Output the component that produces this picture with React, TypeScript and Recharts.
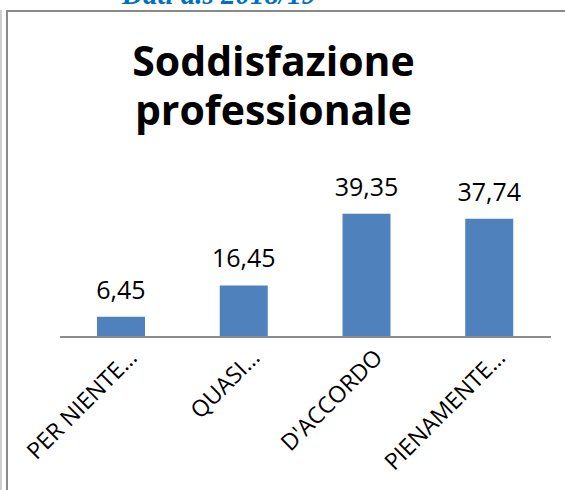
import { BarChart, Bar, XAxis, YAxis, LabelList } from "recharts";

const categories = ["PER NIENTE…", "QUASI…", "D'ACCORDO", "PIENAMENTE…"];
const values = [6.45, 16.45, 39.35, 37.74];

const data = categories.map((name, i) => ({ name, value: values[i] }));

const BAR_COLOR = "#4F81BD";
const FONT = "'Open Sans', 'Liberation Sans', sans-serif";

// rotated category label, text ends up-right near the tick
const CategoryTick = (props: any) => {
  const { x, y, payload } = props;
  const ax = x + 17;
  const ay = y + 22;
  return (
    <text
      x={ax}
      y={ay}
      textAnchor="end"
      transform={`rotate(-45, ${ax}, ${ay})`}
      fill="#000"
      fontSize={23}
      fontFamily={FONT}
    >
      {payload.value}
    </text>
  );
};

const formatValue = (v: any) => Number(v).toFixed(2).replace(".", ",");

export default function App() {
  return (
    <div
      style={{
        position: "absolute",
        left: 0,
        top: 0,
        width: 565,
        height: 490,
        overflow: "hidden",
        background: "#fff",
      }}
    >
      {/* cut-off heading above the chart box */}
      <div
        style={{
          position: "absolute",
          left: 122,
          top: -20,
          fontFamily: "'Liberation Serif', serif",
          fontWeight: "bold",
          fontStyle: "italic",
          fontSize: 29,
          lineHeight: "29px",
          color: "#0070C0",
          whiteSpace: "nowrap",
        }}
      >
        Dati a.s 2018/19
      </div>

      {/* chart frame */}
      <div
        style={{
          position: "absolute",
          left: 0,
          top: 10,
          width: 2,
          height: 480,
          background: "#cfcfcf",
        }}
      />
      <div
        style={{
          position: "absolute",
          left: 6,
          top: 10,
          width: 600,
          height: 500,
          borderLeft: "2px solid #8a8a8a",
          borderTop: "2px solid #8a8a8a",
        }}
      />

      <div
        style={{
          position: "absolute",
          left: 0,
          top: 36,
          width: 547,
          textAlign: "center",
          fontFamily: FONT,
          fontWeight: "bold",
          fontSize: 41,
          lineHeight: "49px",
          color: "#000",
        }}
      >
        Soddisfazione
        <br />
        professionale
      </div>

      <div style={{ position: "absolute", left: 0, top: 0 }}>
        <BarChart
          width={565}
          height={490}
          data={data}
          margin={{ top: 196, right: 14, bottom: 0, left: 60 }}
        >
          <YAxis hide domain={[0, 45]} />
          <XAxis
            dataKey="name"
            axisLine={{ stroke: "#8c8c8c", strokeWidth: 2 }}
            tickLine={false}
            tickSize={0}
            tickMargin={0}
            interval={0}
            height={153}
            tick={<CategoryTick />}
          />
          <Bar
            dataKey="value"
            fill={BAR_COLOR}
            barSize={48}
            isAnimationActive={false}
          >
            <LabelList
              dataKey="value"
              position="top"
              offset={18}
              formatter={formatValue}
              fill="#000"
              fontSize={25}
              fontFamily={FONT}
            />
          </Bar>
        </BarChart>
      </div>
    </div>
  );
}
